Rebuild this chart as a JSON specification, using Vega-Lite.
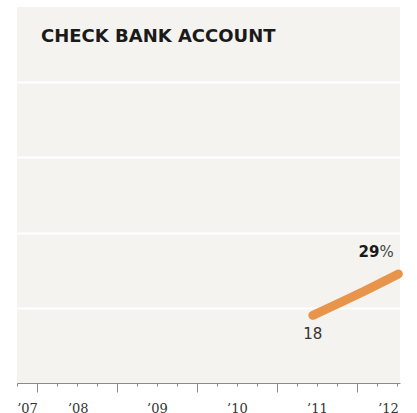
{
  "$schema": "https://vega.github.io/schema/vega-lite/v6.json",
  "width": 383,
  "height": 376,
  "autosize": {"type": "none"},
  "padding": {"left": 17, "top": 7, "right": 17, "bottom": 30},
  "background": "#ffffff",
  "view": {"fill": "#f4f3ef", "stroke": null},
  "title": {
    "text": "CHECK BANK ACCOUNT",
    "orient": "top",
    "anchor": "start",
    "frame": "group",
    "offset": -48,
    "dx": 24,
    "baseline": "middle",
    "font": "DejaVu Sans",
    "fontSize": 18,
    "fontWeight": "bold",
    "color": "#1a1a1a"
  },
  "datasets": {
    "series": [
      {"year": 2011.45, "pct": 18},
      {"year": 2012.05, "pct": 24},
      {"year": 2012.52, "pct": 29}
    ],
    "labels": [
      {"year": 2011.45, "pct": 18, "label": "18"}
    ],
    "endlabel": [
      {"year": 2012.52, "pct": 29, "num": "29", "unit": "%"}
    ],
    "ticks": [
      {"year": 2008}
    ]
  },
  "resolve": {"axis": {"x": "independent"}},
  "layer": [
    {
      "data": {"name": "series"},
      "mark": {"type": "line", "color": "#e8944a", "strokeWidth": 9, "strokeCap": "round", "strokeJoin": "round", "interpolate": "monotone", "clip": false},
      "encoding": {
        "x": {
          "field": "year", "type": "quantitative",
          "scale": {"domain": [2007.75, 2012.54], "nice": false, "zero": false},
          "axis": {
            "orient": "bottom",
            "title": null,
            "values": [2008, 2009, 2010, 2011, 2012],
            "labels": false,
            "grid": false,
            "domain": true,
            "domainColor": "#8a8a8a",
            "domainWidth": 1,
            "ticks": true,
            "tickSize": 9,
            "tickColor": "#8a8a8a",
            "tickWidth": 1
          }
        },
        "y": {
          "field": "pct", "type": "quantitative",
          "scale": {"domain": [0, 100], "nice": false},
          "axis": {
            "title": null,
            "values": [20, 40, 60, 80],
            "labels": false,
            "ticks": false,
            "domain": false,
            "grid": true,
            "gridColor": "#ffffff",
            "gridWidth": 2,
            "gridOpacity": 1
          }
        }
      }
    },
    {
      "data": {"name": "ticks"},
      "mark": {"type": "point", "opacity": 0},
      "encoding": {
        "x": {
          "field": "year", "type": "quantitative",
          "axis": {
            "orient": "bottom",
            "title": null,
            "values": [2007.75, 2008.25, 2008.5, 2008.75, 2009.25, 2009.5, 2009.75, 2010.25, 2010.5, 2010.75, 2011.25, 2011.5, 2011.75, 2012.25, 2012.5],
            "labels": false,
            "grid": false,
            "domain": false,
            "ticks": true,
            "tickSize": 3,
            "tickColor": "#8a8a8a",
            "tickWidth": 1
          }
        }
      }
    },
    {
      "data": {"name": "ticks"},
      "mark": {"type": "point", "opacity": 0},
      "encoding": {
        "x": {
          "field": "year", "type": "quantitative",
          "axis": {
            "orient": "bottom",
            "title": null,
            "values": [2007.875, 2008.51, 2009.5, 2010.5, 2011.5, 2012.39],
            "labelExpr": "'\u2019' + substring(toString(floor(datum.value)), 2, 4)",
            "grid": false,
            "domain": false,
            "ticks": false,
            "labelPadding": 25,
            "labelBaseline": "middle",
            "labelFont": "DejaVu Serif",
            "labelFontSize": 13,
            "labelColor": "#333333",
            "labelOverlap": false,
            "labelFlush": false
          }
        }
      }
    },
    {
      "data": {"name": "labels"},
      "mark": {"type": "text", "dy": 19, "align": "center", "baseline": "middle", "font": "DejaVu Sans", "fontSize": 15, "color": "#333333"},
      "encoding": {
        "x": {"field": "year", "type": "quantitative", "axis": null},
        "y": {"field": "pct", "type": "quantitative"},
        "text": {"field": "label"}
      }
    },
    {
      "data": {"name": "endlabel"},
      "mark": {"type": "text", "dx": -19, "dy": -22, "align": "right", "baseline": "middle", "font": "DejaVu Sans", "fontSize": 15, "fontWeight": "bold", "color": "#1a1a1a"},
      "encoding": {
        "x": {"field": "year", "type": "quantitative", "axis": null},
        "y": {"field": "pct", "type": "quantitative"},
        "text": {"field": "num"}
      }
    },
    {
      "data": {"name": "endlabel"},
      "mark": {"type": "text", "dx": -19, "dy": -22, "align": "left", "baseline": "middle", "font": "DejaVu Sans", "fontSize": 15, "color": "#444444"},
      "encoding": {
        "x": {"field": "year", "type": "quantitative", "axis": null},
        "y": {"field": "pct", "type": "quantitative"},
        "text": {"field": "unit"}
      }
    }
  ]
}
